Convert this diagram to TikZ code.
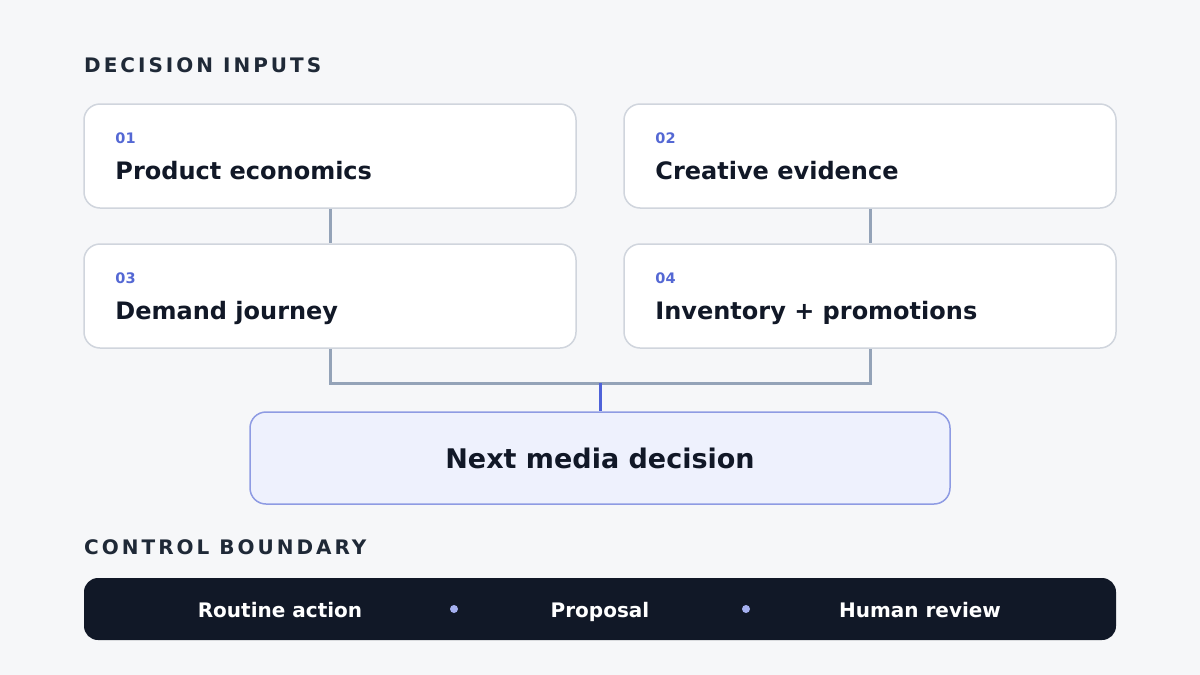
\documentclass[tikz,border=0pt]{standalone}
\usepackage{fontspec}
\setmainfont{DejaVu Sans}
\usetikzlibrary{positioning}
\usepackage{xcolor}

\definecolor{pagebg}{HTML}{F6F7F9}
\definecolor{inkdark}{HTML}{111827}
\definecolor{headink}{HTML}{1F2937}
\definecolor{cardline}{HTML}{D0D5DD}
\definecolor{numblue}{HTML}{5468D4}
\definecolor{linkgray}{HTML}{94A3B8}
\definecolor{linkblue}{HTML}{4F63D9}
\definecolor{decfill}{HTML}{EEF1FD}
\definecolor{decline}{HTML}{8E9BE3}
\definecolor{dotblue}{HTML}{A5B0F0}

\begin{document}
\begin{tikzpicture}[x=1pt, y=-1pt,
    every node/.style={inner sep=0pt},
    card/.style={
        rectangle,
        rounded corners=16pt,
        draw=cardline,
        line width=1.5pt,
        fill=white,
        minimum width=492pt,
        minimum height=104pt
    },
    cardnum/.style={anchor=base west, text=numblue, font=\bfseries\fontsize{14.5}{14.5}\selectfont},
    cardtitle/.style={anchor=base west, text=inkdark, font=\bfseries\fontsize{24}{24}\selectfont},
    heading/.style={anchor=base west, text=headink, font=\bfseries\fontsize{20}{20}\selectfont\addfontfeature{LetterSpace=15}},
    barlabel/.style={anchor=base, text=white, font=\bfseries\fontsize{20}{20}\selectfont},
    bardot/.style={circle, fill=dotblue, minimum size=8pt},
    link/.style={draw=linkgray, line width=3pt}
]
    %page
    \fill[pagebg] (0,0) rectangle (1200,675);

    %inputs
    \node (decision_inputs) [heading] at (84,72) {DECISION INPUTS};

    \node (product_economics) [card, shift={(330,156)}] {};
    \node (product_economics_num) [cardnum, shift={(32,40)}] at (product_economics.north west) {01};
    \node (product_economics_title) [cardtitle, shift={(32,76)}] at (product_economics.north west) {Product economics};

    \node (creative_evidence) [card, shift={(870,156)}] {};
    \node (creative_evidence_num) [cardnum, shift={(32,40)}] at (creative_evidence.north west) {02};
    \node (creative_evidence_title) [cardtitle, shift={(32,76)}] at (creative_evidence.north west) {Creative evidence};

    \node (demand_journey) [card, shift={(330,296)}] {};
    \node (demand_journey_num) [cardnum, shift={(32,40)}] at (demand_journey.north west) {03};
    \node (demand_journey_title) [cardtitle, shift={(32,76)}] at (demand_journey.north west) {Demand journey};

    \node (inventory_promotions) [card, shift={(870,296)}] {};
    \node (inventory_promotions_num) [cardnum, shift={(32,40)}] at (inventory_promotions.north west) {04};
    \node (inventory_promotions_title) [cardtitle, shift={(32,76)}] at (inventory_promotions.north west) {Inventory + promotions};

    %decision
    \node (next_media_decision) [card, fill=decfill, draw=decline, minimum width=700pt, minimum height=92pt, shift={(600,458)}] {};
    \node (next_media_decision_title) [anchor=base, text=inkdark, font=\bfseries\fontsize{27}{27}\selectfont, shift={(0,10)}] at (next_media_decision.center) {Next media decision};
    \coordinate (inputs_join) at (600,383);

    %control
    \node (control_boundary) [heading] at (84,554) {CONTROL BOUNDARY};
    \node (control_bar) [rectangle, rounded corners=14pt, fill=inkdark, minimum width=1032pt, minimum height=62pt, shift={(600,609)}] {};
    \node (routine_action) [barlabel] at (280,617) {Routine action};
    \node (proposal) [barlabel] at (600,617) {Proposal};
    \node (human_review) [barlabel] at (920,617) {Human review};
    \node (dot_left) [bardot] at (454,609) {};
    \node (dot_right) [bardot] at (746,609) {};

    %links
    \draw[link] (product_economics.south) to (demand_journey.north);
    \draw[link] (creative_evidence.south) to (inventory_promotions.north);
    \draw[link] (demand_journey.south) |- (inputs_join) -| (inventory_promotions.south);
    \draw[draw=linkblue, line width=3pt] (inputs_join) to (next_media_decision.north);

\end{tikzpicture}
\end{document}
